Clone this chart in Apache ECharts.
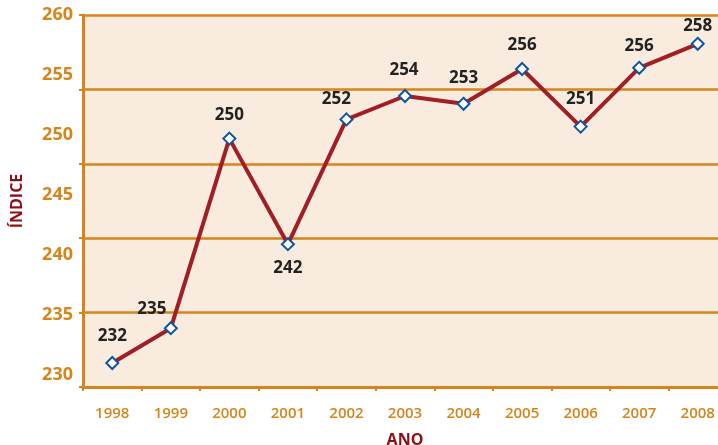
<!DOCTYPE html>
<html>
<head>
<meta charset="utf-8">
<script src="https://cdn.jsdelivr.net/npm/echarts@6/dist/echarts.min.js"></script>
<style>
html,body{margin:0;padding:0;background:#fff;}
#c{width:718px;height:445px;}
</style>
</head>
<body>
<div id="c"></div>
<script>
// Data
const years = ['1998','1999','2000','2001','2002','2003','2004','2005','2006','2007','2008'];
const plotted = [231.0, 233.9, 249.7, 240.9, 251.3, 253.25, 252.6, 255.5, 250.7, 255.6, 257.6];
const printedLabels = [232, 235, 250, 242, 252, 254, 253, 256, 251, 256, 258];
const yTickLabels = [230, 235, 240, 245, 250, 255, 260];

// Style: label offsets (dx, dy) from each point
const labelOffsets = [[0,-27],[-19,-19],[0,-23],[0,24],[-10,-20],[-1,-26],[0,-26],[0,-24],[0,-27],[0,-22],[0,-18]];

const ORANGE = '#D6841C';
const chart = echarts.init(document.getElementById('c'));
chart.setOption({
  animation: false,
  grid: { left: 83, top: 15, width: 644, height: 372, show: true, backgroundColor: '#FAEBDF', borderWidth: 0,
          containLabel: false, outerBoundsMode: 'none' },
  xAxis: {
    type: 'category', data: years, boundaryGap: true,
    name: 'ANO', nameLocation: 'middle', nameGap: 45,
    nameTextStyle: { color: '#8E0F14', fontFamily: 'Open Sans', fontWeight: 700, fontSize: 16 },
    axisLine: { lineStyle: { color: ORANGE, width: 3 } },
    axisTick: { show: true, length: 4, lineStyle: { color: ORANGE, width: 2 } },
    axisLabel: { color: ORANGE, fontFamily: 'Open Sans', fontWeight: 600, fontSize: 15, margin: 19, interval: 0 },
    splitLine: { show: false }
  },
  yAxis: [
    {
      type: 'value', min: 229, max: 260, position: 'left',
      name: 'ÍNDICE', nameLocation: 'middle', nameGap: 58, nameRotate: 90,
      nameTextStyle: { color: '#8E0F14', fontFamily: 'Open Sans', fontWeight: 700, fontSize: 16 },
      axisLine: { show: true, lineStyle: { color: ORANGE, width: 3 } },
      axisTick: { show: false },
      splitLine: { show: false },
      axisLabel: { customValues: yTickLabels, color: ORANGE, fontFamily: 'Open Sans', fontWeight: 700, fontSize: 18, margin: 10 }
    },
    {
      type: 'value', min: 0, max: 5, interval: 1, position: 'left',
      axisLine: { show: false },
      axisTick: { show: true, length: 4, lineStyle: { color: ORANGE, width: 2 } },
      axisLabel: { show: false },
      splitLine: { show: true, showMinLine: true, showMaxLine: true, lineStyle: { color: ORANGE, width: 2.5 } }
    }
  ],
  series: [{
    type: 'line', yAxisIndex: 0,
    data: plotted,
    symbol: 'diamond', symbolSize: 12,
    lineStyle: { color: '#A01E24', width: 4 },
    itemStyle: { color: '#ffffff', borderColor: '#0F56A0', borderWidth: 2 },
    z: 5,
    label: {
      show: true, position: 'inside',
      formatter: p => String(printedLabels[p.dataIndex]),
      color: '#222', fontFamily: 'Open Sans', fontWeight: 700, fontSize: 17
    },
    labelLayout: p => ({ dx: labelOffsets[p.dataIndex][0], dy: labelOffsets[p.dataIndex][1] })
  }]
});
</script>
</body>
</html>
